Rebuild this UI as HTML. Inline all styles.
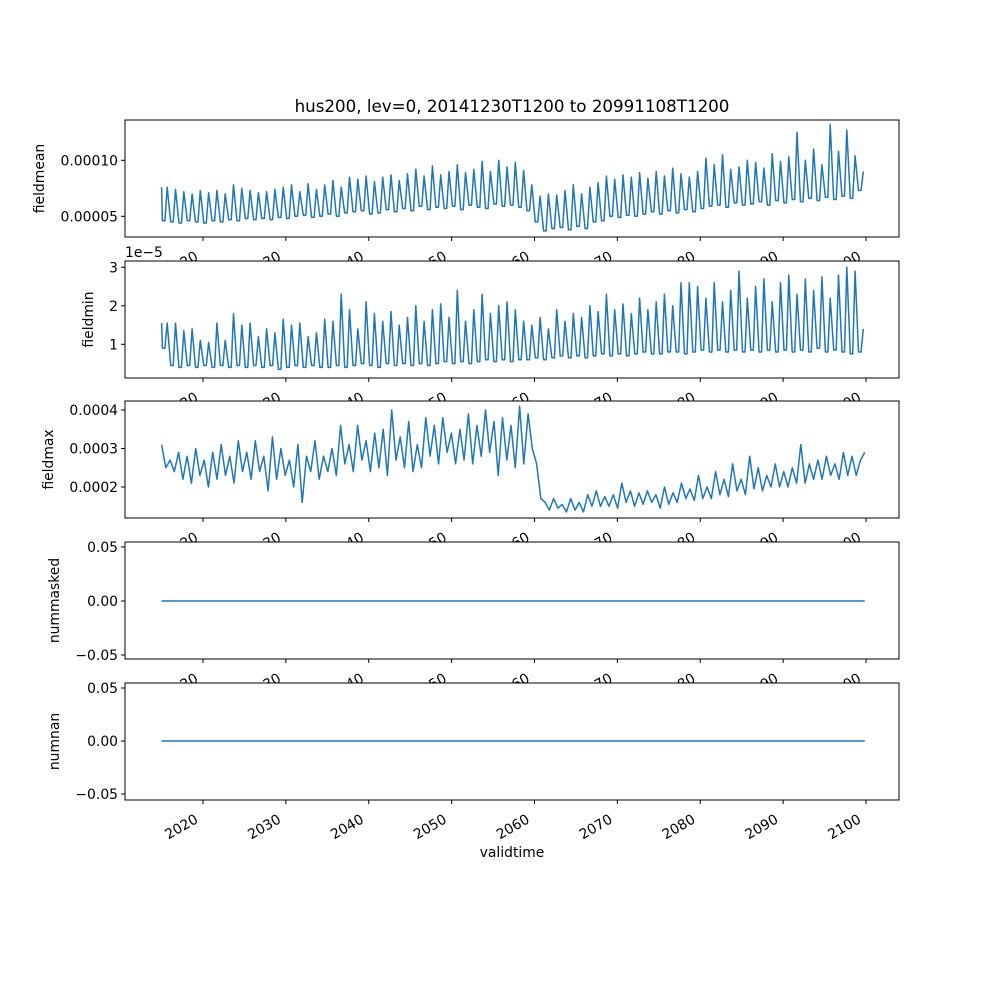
<!DOCTYPE html>
<html><head><meta charset="utf-8"><style>
html,body{margin:0;padding:0;background:#fff}
svg{display:block;font-family:"DejaVu Sans","Liberation Sans",sans-serif}
</style></head><body>
<svg id="chart" width="1000" height="1000" viewBox="0 0 1000 1000"></svg>
<script>
// fieldmean (x1e-5), trough/peak per year from 2015
const meanValues=[4.6,7.6,4.5,7.4,4.4,7.2,4.6,7.0,4.5,7.3,4.4,7.1,4.6,7.3,4.5,7.0,4.7,7.8,4.6,7.5,
4.8,7.3,4.7,7.1,4.8,7.2,4.7,7.4,4.9,7.6,4.8,7.8,5.0,7.2,5.1,7.9,4.9,7.4,5.0,7.8,
5.2,8.2,5.0,7.6,5.3,8.5,5.4,8.3,5.5,8.6,5.2,8.1,5.3,8.5,5.6,8.7,5.4,8.2,5.7,8.8,
5.5,9.2,5.9,8.6,5.6,9.5,5.8,8.7,5.7,9.0,5.9,9.6,5.6,8.9,6.0,9.2,5.8,9.9,5.7,9.0,
6.1,10.0,5.9,9.4,6.0,9.8,5.8,9.1,5.5,7.8,4.5,6.8,3.7,7.0,3.9,6.9,4.0,7.3,3.8,7.8,
4.1,7.0,3.9,7.6,4.5,8.0,4.6,8.6,5.0,8.3,4.9,8.7,5.1,8.5,5.0,8.9,5.2,8.4,5.4,9.0,
5.2,8.6,5.5,9.3,5.3,8.8,5.6,8.5,5.4,9.0,5.7,10.2,5.9,9.6,6.0,10.5,5.8,9.2,6.2,9.4,
6.0,10.0,6.1,9.8,6.3,9.3,6.0,10.6,6.4,9.9,6.2,10.3,6.5,12.5,6.3,10.0,6.6,11.0,6.4,9.6,
6.7,13.2,6.5,10.8,6.8,12.7,6.6,10.4,7.3,9.0];
// fieldmin (x1e-5)
const minValues=[0.9,1.55,0.45,1.55,0.4,1.35,0.45,1.4,0.4,1.1,0.45,1.05,0.4,1.55,0.45,1.1,0.4,1.8,0.45,1.5,
0.4,1.55,0.45,1.2,0.4,1.4,0.45,1.3,0.35,1.65,0.4,1.5,0.45,1.55,0.4,1.2,0.45,1.3,0.4,1.65,
0.4,1.6,0.45,2.3,0.4,1.9,0.45,1.4,0.5,2.1,0.45,1.8,0.4,1.6,0.5,1.85,0.45,1.5,0.5,1.7,
0.45,2.0,0.5,1.6,0.45,1.9,0.5,2.05,0.55,1.7,0.5,2.4,0.55,1.6,0.5,1.9,0.55,2.3,0.6,1.8,
0.55,2.0,0.6,2.1,0.55,1.9,0.6,1.6,0.6,1.5,0.65,1.7,0.6,1.4,0.65,1.9,0.7,1.6,0.65,1.8,
0.7,1.7,0.65,2.0,0.7,1.85,0.75,2.3,0.7,1.9,0.75,2.05,0.7,1.8,0.75,2.2,0.8,1.9,0.75,2.1,
0.75,2.3,0.8,2.0,0.8,2.6,0.75,2.6,0.8,2.5,0.85,2.2,0.8,2.6,0.85,2.1,0.8,2.4,0.85,2.9,
0.8,2.2,0.85,2.5,0.8,2.7,0.85,2.1,0.8,2.6,0.85,2.8,0.8,2.3,0.85,2.7,0.8,2.4,0.9,2.75,
0.8,2.2,0.85,2.8,0.8,3.0,0.75,2.9,0.8,1.4];
// fieldmax (x1e-4)
const maxValues=[3.1,2.5,2.7,2.4,2.9,2.2,2.8,2.1,3.0,2.3,2.7,2.0,2.9,2.2,3.1,2.3,2.8,2.1,3.2,2.4,
2.9,2.2,3.2,2.4,2.8,1.9,3.3,2.2,3.0,2.3,2.7,2.0,3.1,1.6,2.8,2.4,3.2,2.2,2.8,2.4,
3.0,2.3,3.6,2.6,3.1,2.4,3.6,2.7,3.2,2.4,3.4,2.5,3.5,2.3,4.0,2.7,3.3,2.5,3.7,2.4,
3.1,2.5,3.8,2.8,3.6,2.6,3.8,2.9,3.4,2.6,3.5,2.7,3.9,2.6,3.6,2.8,4.0,2.9,3.7,2.3,
3.8,2.7,3.6,2.5,4.1,2.6,3.9,3.0,2.6,1.7,1.6,1.4,1.7,1.45,1.55,1.35,1.7,1.4,1.6,1.35,
1.8,1.5,1.9,1.5,1.75,1.5,1.8,1.45,2.1,1.6,1.9,1.5,1.85,1.55,1.9,1.6,1.8,1.45,2.0,1.55,
1.85,1.6,2.1,1.7,1.95,1.65,2.3,1.7,2.0,1.7,2.4,1.8,2.2,1.75,2.6,1.9,2.2,1.8,2.8,1.95,
2.5,1.9,2.3,2.0,2.6,2.0,2.4,2.0,2.5,2.1,3.1,2.1,2.6,2.2,2.7,2.2,2.8,2.3,2.6,2.2,
2.9,2.3,2.8,2.3,2.7,2.9];
const maskedValues=[0,0];
const nanValues=[0,0];
const xTicks=[2020,2030,2040,2050,2060,2070,2080,2090,2100];

const svg=document.getElementById('chart');
const NS='http://www.w3.org/2000/svg';
function mk(tag,attrs,parent){const e=document.createElementNS(NS,tag);for(const k in attrs)e.setAttribute(k,attrs[k]);(parent||svg).appendChild(e);return e;}
const L=125,R=899;
const xs=t=>203+(t-2020)*(866-203)/80;
const FS=13.9;
const T0=2015.0,T1=2099.85;
const panels=[
 {name:'fieldmean',top:120,bot:237,vals:meanValues,scale:1e-5,seasonal:true,y:v=>216.3-(v-5e-5)*56/5e-5,ticks:[5e-5,1e-4],fmt:v=>v.toFixed(5),lx:44},
 {name:'fieldmin',top:261,bot:378,vals:minValues,scale:1,seasonal:true,y:v=>344.3-(v-1)*38.5,ticks:[1,2,3],fmt:v=>String(v),lx:93,offset:'1e\u22125'},
 {name:'fieldmax',top:401,bot:518,vals:maxValues,scale:1e-4,y:v=>487-(v-2e-4)*38.5/1e-4,ticks:[2e-4,3e-4,4e-4],fmt:v=>v.toFixed(4),lx:53},
 {name:'nummasked',top:542,bot:659,vals:maskedValues,flat:true,scale:1,y:v=>601-v*54/0.05,ticks:[-0.05,0,0.05],fmt:v=>v.toFixed(2).replace('-','\u2212'),lx:59},
 {name:'numnan',top:683,bot:800,vals:nanValues,flat:true,scale:1,y:v=>741-v*53/0.05,ticks:[-0.05,0,0.05],fmt:v=>v.toFixed(2).replace('-','\u2212'),lx:59}
];
const title=mk('text',{x:512,y:112,'text-anchor':'middle','font-size':16.7});
title.textContent='hus200, lev=0, 20141230T1200 to 20991108T1200';


panels.forEach((p,pi)=>{
 const g=mk('g',{});
 
 
 mk('rect',{x:L,y:p.top,width:R-L,height:p.bot-p.top,fill:'#fff'},g);
 let pts=[];
 if(p.flat){pts=[[xs(T0),p.y(p.vals[0])],[xs(T1),p.y(p.vals[1])]];}
 else if(p.seasonal){
  for(let i=0;i<p.vals.length;i+=2){
   const yr=2015+i/2;
   const tr=p.y(p.vals[i]*p.scale);
   if(i===0){pts.push([xs(yr),p.y(p.vals[i+1]*p.scale)]);}
   pts.push([xs(yr+0.1),tr]);
   if(i+1<p.vals.length){
    pts.push([xs(yr+0.4),tr]);
    pts.push([xs(yr+0.68),p.y(p.vals[i+1]*p.scale)]);
   }
  }
 }
 else{const n=p.vals.length;p.vals.forEach((v,i)=>{pts.push([xs(T0+(T1-T0)*i/(n-1)),p.y(v*p.scale)]);});}
 const line=mk('polyline',{points:pts.map(q=>q[0].toFixed(1)+','+q[1].toFixed(1)).join(' '),fill:'none',stroke:'#1f77b4','stroke-width':1.5,'stroke-linejoin':'round'},g);
 
 
 mk('rect',{x:L,y:p.top,width:R-L,height:p.bot-p.top,fill:'none',stroke:'#000','stroke-width':1},g);
 p.ticks.forEach(t=>{
  const yy=p.y(t);
  mk('line',{x1:L-4,x2:L,y1:yy,y2:yy,stroke:'#000'},g);
  const tx=mk('text',{x:L-7,y:yy+5,'text-anchor':'end','font-size':FS},g);
  tx.textContent=p.fmt(t);
  
  
 });
 const yl=mk('text',{x:0,y:0,'text-anchor':'middle','font-size':FS,transform:`translate(${p.lx},${(p.top+p.bot)/2}) rotate(-90)`},g);
 yl.textContent=p.name;
 
 
 if(p.offset){const o=mk('text',{x:L,y:p.top-4,'font-size':FS},g);o.textContent=p.offset;
  
  }
 xTicks.forEach(t=>{
  const xx=xs(t);
  mk('line',{x1:xx,x2:xx,y1:p.bot,y2:p.bot+4,stroke:'#000'},g);
  const tx=mk('text',{x:0,y:0,'text-anchor':'end','font-size':FS,transform:`translate(${xx-4},${p.bot+22}) rotate(-30)`},g);
  tx.textContent=String(t);
  
  
 });
});
const xl=mk('text',{x:512,y:857,'text-anchor':'middle','font-size':FS});
xl.textContent='validtime';


</script>
</body></html>
